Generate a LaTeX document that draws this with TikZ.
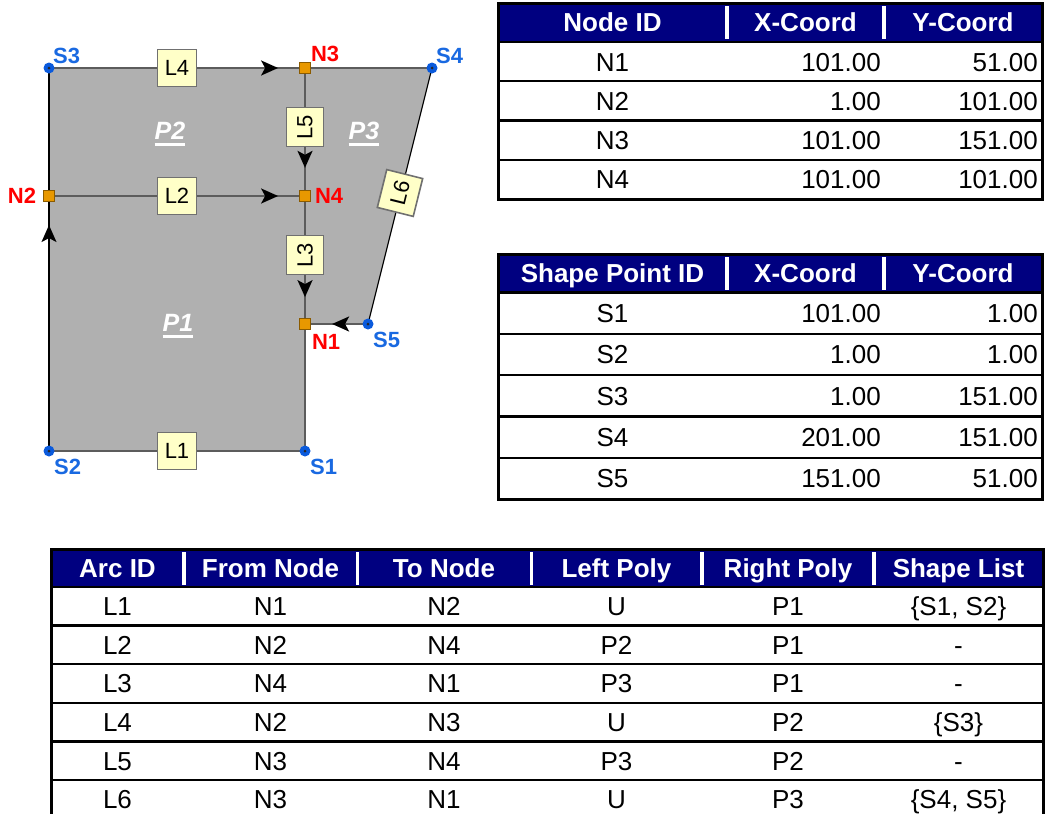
\documentclass[tikz,border=0pt]{standalone}
\usepackage{fontspec}
\setmainfont{Liberation Sans}
\usetikzlibrary{arrows.meta,positioning,calc,decorations.markings}
\definecolor{hdrblue}{RGB}{0,0,128}
\definecolor{polygray}{RGB}{176,176,176}
\definecolor{edgegray}{RGB}{92,92,92}
\definecolor{ptblue}{RGB}{10,90,220}
\definecolor{lblblue}{RGB}{25,105,225}
\definecolor{nodeorange}{RGB}{232,152,0}
\definecolor{boxfill}{RGB}{255,255,200}
\definecolor{boxline}{RGB}{112,112,112}
\pgfdeclarelayer{fillbg}
\pgfdeclarelayer{edges}
\pgfsetlayers{fillbg,edges,main}
\newcommand{\fsz}[1]{\fontsize{#1}{#1}\selectfont}
\newcommand{\pul}[1]{\setbox0\hbox{#1}\rlap{\rule[-7pt]{\wd0}{3pt}}\box0}
\tikzset{
  spt/.style={circle,fill=ptblue,minimum size=11pt,inner sep=0pt,
              path picture={\fill[black!85] (path picture bounding box.center) circle (1.5pt);}},
  npt/.style={rectangle,fill=nodeorange,draw=nodeorange!60!black,line width=0.6pt,
              minimum size=11pt,inner sep=0pt},
  slbl/.style={font=\bfseries\fsz{22},text=lblblue,inner sep=1pt},
  nlbl/.style={font=\bfseries\fsz{22},text=red,inner sep=1pt},
  arcbox/.style={draw=boxline,line width=1.6pt,fill=boxfill,minimum width=39pt,
                 minimum height=37pt,inner sep=0pt,font=\fsz{22}},
  plbl/.style={font=\bfseries\itshape\fsz{25},text=white,inner sep=0pt,anchor=base},
  edge/.style={draw=edgegray,line width=2pt},
  rim/.style={draw=black,line width=1.2pt},
  ar/.style={postaction={decorate},decoration={markings,mark=at position #1 with
             {\arrow{Stealth[length=17pt,width=15pt,inset=4pt,color=black]}}}},
  hdr/.style={font=\bfseries\fsz{26},text=white,inner sep=0pt,text height=18.7pt,text depth=0pt},
  cell/.style={font=\fsz{26},inner sep=0pt,text height=18.7pt,text depth=0pt},
  frame/.style={draw=black,line width=3pt},
  rowline/.style={draw=black,line width=2.4pt},
  hsep/.style={draw=white,line width=3.5pt}
}

\begin{document}
\begin{tikzpicture}[x=1pt,y=-1pt]
  \useasboundingbox (0,0) rectangle (1045,814);
  \clip (0,0) rectangle (1045,814);

  % nodes and shape points
  \node[spt] (S3) at (49,68) {};
  \node[npt] (N3) at (305,68) {};
  \node[spt] (S4) at (432,68) {};
  \node[npt] (N2) at (49,196) {};
  \node[npt] (N4) at (305,196) {};
  \node[npt] (N1) at (305,324) {};
  \node[spt] (S5) at (368,324) {};
  \node[spt] (S2) at (49,451) {};
  \node[spt] (S1) at (305,451) {};

  \node[slbl,above right=-1pt and -1pt of S3] (S3l) {S3};
  \node[nlbl,above right=-1pt and -1pt of N3] (N3l) {N3};
  \node[slbl,above right=-1pt and -1pt of S4] (S4l) {S4};
  \node[nlbl,left=6pt of N2] (N2l) {N2};
  \node[nlbl,right=3pt of N4] (N4l) {N4};
  \node[nlbl,below right=3pt and 0pt of N1] (N1l) {N1};
  \node[slbl,below right=3pt and 0pt of S5] (S5l) {S5};
  \node[slbl,below right=3pt and 0pt of S2] (S2l) {S2};
  \node[slbl,below right=3pt and 0pt of S1] (S1l) {S1};

  % arc labels
  \node[arcbox] (L4) at (177,68) {L4};
  \node[arcbox] (L2) at (177,196) {L2};
  \node[arcbox] (L1) at (177,451) {L1};
  \node[arcbox,rotate=90] (L5) at (305,127) {L5};
  \node[arcbox,rotate=90] (L3) at (305,255) {L3};
  \node[arcbox,rotate=76] (L6) at (400,193) {L6};

  % polygon labels
  \node[plbl] (P2) at (170,139) {\pul{P2}};
  \node[plbl] (P3) at (364,139) {\pul{P3}};
  \node[plbl] (P1) at (178,331) {\pul{P1}};

  \begin{pgfonlayer}{fillbg}
    \fill[polygray] (S3.center) -- (S4.center) -- (S5.center) -- (N1.center)
      -- (S1.center) -- (S2.center) -- cycle;
  \end{pgfonlayer}
  \begin{pgfonlayer}{edges}
    \draw[rim,ar=0.886] (S2.center) -- (N2.center);
    \draw[rim] (N2.center) -- (S3.center);
    \draw[edge,ar=0.895] (S3.center) -- (N3.center);
    \draw[edge] (N3.center) -- (S4.center);
    \draw[rim] (S4.center) -- (S5.center);
    \draw[edge,ar=0.57] (S5.center) -- (N1.center);
    \draw[edge,ar=0.895] (N2.center) -- (N4.center);
    \draw[edge,ar=0.78] (N3.center) -- (N4.center);
    \draw[edge,ar=0.79] (N4.center) -- (N1.center);
    \draw[edge] (N1.center) -- (S1.center) -- (S2.center);
  \end{pgfonlayer}

  % node table
  \fill[hdrblue] (498,3) rectangle (1042,42);
  \foreach \xx in {727,884} \draw[hsep] (\xx,6) -- (\xx,39);
  \foreach \hd/\xx [count=\c] in {Node ID/612.5,X-Coord/805.5,Y-Coord/963}
    \node[hdr] (nh-\c) at (\xx,22.5) {\hd};
  \foreach \id/\xv/\yv [count=\r] in {N1/101.00/51.00,N2/1.00/101.00,
      N3/101.00/151.00,N4/101.00/101.00} {
    \node[cell] (nt-\r-a) at (612.5,{42+39.25*\r-19.6}) {\id};
    \node[cell,anchor=east] (nt-\r-b) at (881,{42+39.25*\r-19.6}) {\xv};
    \node[cell,anchor=east] (nt-\r-c) at (1038,{42+39.25*\r-19.6}) {\yv};
  }
  \foreach \yy in {42,81.25,120.5,159.75} \draw[rowline] (498,\yy) -- (1042,\yy);
  \draw[frame] (498,3) rectangle (1042,199);

  % shape point table
  \fill[hdrblue] (498,254) rectangle (1042,292.5);
  \foreach \xx in {727,884} \draw[hsep] (\xx,257) -- (\xx,290);
  \foreach \hd/\xx [count=\c] in {Shape Point ID/612.5,X-Coord/805.5,Y-Coord/963}
    \node[hdr] (sh-\c) at (\xx,273.5) {\hd};
  \foreach \id/\xv/\yv [count=\r] in {S1/101.00/1.00,S2/1.00/1.00,S3/1.00/151.00,
      S4/201.00/151.00,S5/151.00/51.00} {
    \node[cell] (st-\r-a) at (612.5,{292.5+41.3*\r-20.6}) {\id};
    \node[cell,anchor=east] (st-\r-b) at (881,{292.5+41.3*\r-20.6}) {\xv};
    \node[cell,anchor=east] (st-\r-c) at (1038,{292.5+41.3*\r-20.6}) {\yv};
  }
  \foreach \yy in {292.5,333.8,375.1,416.4,457.7} \draw[rowline] (498,\yy) -- (1042,\yy);
  \draw[frame] (498,254) rectangle (1042,499);

  % arc table
  \fill[hdrblue] (51,549) rectangle (1043,587);
  \foreach \xx in {184,357.5,531.5,702,874} \draw[hsep] (\xx,552) -- (\xx,585);
  \foreach \hd/\xx [count=\c] in {Arc ID/117.5,From Node/270.5,To Node/444,
      Left Poly/616.5,Right Poly/788,Shape List/958.5}
    \node[hdr] (ah-\c) at (\xx,568) {\hd};
  \foreach \id/\fn/\tn/\lp/\rp/\sl [count=\r] in {L1/N1/N2/U/P1/{\{S1, S2\}},
      L2/N2/N4/P2/P1/-,L3/N4/N1/P3/P1/-,L4/N2/N3/U/P2/{\{S3\}},
      L5/N3/N4/P3/P2/-,L6/N3/N1/U/P3/{\{S4, S5\}}} {
    \node[cell] (at-\r-a) at (117.5,{587+38.6*\r-19.3}) {\id};
    \node[cell] (at-\r-b) at (270.5,{587+38.6*\r-19.3}) {\fn};
    \node[cell] (at-\r-c) at (444,{587+38.6*\r-19.3}) {\tn};
    \node[cell] (at-\r-d) at (616.5,{587+38.6*\r-19.3}) {\lp};
    \node[cell] (at-\r-e) at (788,{587+38.6*\r-19.3}) {\rp};
    \node[cell] (at-\r-f) at (958.5,{587+38.6*\r-19.3}) {\sl};
  }
  \foreach \yy in {587,625.6,664.2,702.8,741.4,780} \draw[rowline] (51,\yy) -- (1043,\yy);
  \draw[frame] (51,549) rectangle (1043,818.6);
\end{tikzpicture}
\end{document}
